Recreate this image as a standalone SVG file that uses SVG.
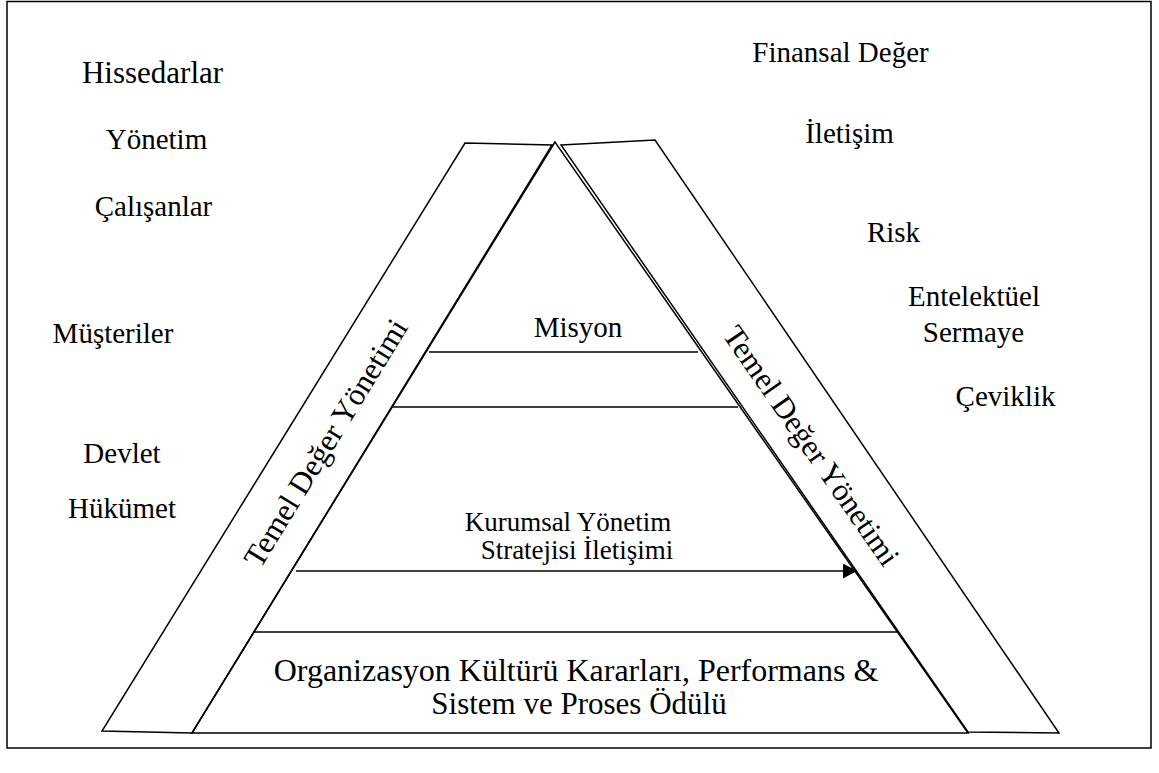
<svg xmlns="http://www.w3.org/2000/svg" width="1159" height="773" viewBox="0 0 1159 773">
<style>
.ln{fill:none;stroke:#000;stroke-width:1.5}
.t{font-family:"Liberation Serif","Times New Roman",serif;fill:#000;text-anchor:middle}
</style>
<defs>
<marker id="ah" viewBox="0 0 14 15" refX="14" refY="7.5" markerWidth="14" markerHeight="15" markerUnits="userSpaceOnUse" orient="auto">
<path d="M0,0 L14,7.5 L0,15 z" fill="#000"/>
</marker>
</defs>
<rect x="0" y="0" width="1159" height="773" fill="#fff"/>
<rect id="frame" class="ln" x="7" y="1.5" width="1144" height="746.5"/>

<g id="left-band">
<path class="ln" d="M465,143 L552,145 L192,733 L102,731 Z"/>
<g transform="translate(326,443) rotate(-58.5)"><text class="t" x="0" y="10" font-size="31">Temel Değer Yönetimi</text></g>
</g>
<g id="right-band">
<path class="ln" d="M561,145 L655,140 L1059,733 L968,732 Z"/>
<g transform="translate(811,446) rotate(55.2)"><text class="t" x="0" y="10" font-size="31">Temel Değer Yönetimi</text></g>
</g>
<g id="pyramid">
<path class="ln" d="M555,142 L192,733 L968,733 Z"/>
</g>

<g id="connectors">
<line class="ln" x1="429" y1="352" x2="698" y2="352"/>
<line class="ln" x1="393" y1="407" x2="738" y2="407"/>
<line class="ln" x1="253" y1="632" x2="898" y2="632"/>
<line class="ln" x1="296" y1="571" x2="857" y2="571" marker-end="url(#ah)"/>
</g>

<g id="misyon"><text class="t" x="578" y="337" font-size="29">Misyon</text></g>
<g id="kurumsal">
<text class="t" x="568" y="531" font-size="27">Kurumsal Yönetim</text>
<text class="t" x="577" y="559" font-size="27">Stratejisi İletişimi</text>
</g>
<g id="kultur">
<text class="t" x="576" y="681" font-size="32">Organizasyon Kültürü Kararları, Performans &amp;</text>
<text class="t" x="579" y="714" font-size="31">Sistem ve Proses Ödülü</text>
</g>

<g id="stakeholders">
<text class="t" x="152.5" y="83" font-size="31">Hissedarlar</text>
<text class="t" x="156.5" y="149" font-size="29">Yönetim</text>
<text class="t" x="153.5" y="216" font-size="29">Çalışanlar</text>
<text class="t" x="113" y="343" font-size="29">Müşteriler</text>
<text class="t" x="122" y="463" font-size="29">Devlet</text>
<text class="t" x="122" y="518" font-size="29">Hükümet</text>
</g>
<g id="values">
<text class="t" x="840.5" y="62" font-size="29">Finansal Değer</text>
<text class="t" x="849.5" y="143" font-size="29">İletişim</text>
<text class="t" x="893.5" y="242" font-size="29">Risk</text>
<text class="t" x="974" y="306" font-size="29">Entelektüel</text>
<text class="t" x="973.5" y="342" font-size="29">Sermaye</text>
<text class="t" x="1005.5" y="406" font-size="29">Çeviklik</text>
</g>
</svg>
